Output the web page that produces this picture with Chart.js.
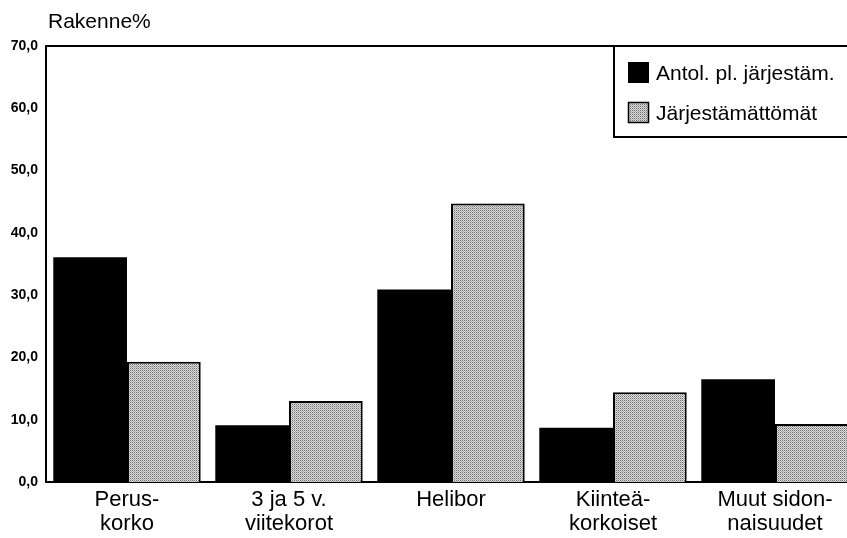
<!DOCTYPE html>
<html>
<head>
<meta charset="utf-8">
<script src="https://cdn.jsdelivr.net/npm/chart.js@4/dist/chart.umd.min.js"></script>
<style>
  html, body { margin: 0; padding: 0; background: #fff; overflow: hidden; }
  #wrap { width: 856px; height: 538px; }
</style>
</head>
<body>
<div id="wrap"><canvas id="graafi" width="856" height="538"></canvas></div>
<script>
// ---- data ----
const kategoriat = [["Perus-", "korko"], ["3 ja 5 v.", "viitekorot"], ["Helibor"], ["Kiinteä-", "korkoiset"], ["Muut sidon-", "naisuudet"]];
const antolArvot = [36.1, 9.1, 30.9, 8.7, 16.5];
const jarjArvot = [19.3, 13.0, 44.7, 14.4, 9.3];
const sarjaNimet = ["Antol. pl. järjestäm.", "Järjestämättömät"];
const otsikko = "Rakenne%";

const fontti = '"Liberation Sans", Arial, Helvetica, sans-serif';

// pisterasteri harmaille pylväille
function rasteri() {
    const c = document.createElement("canvas");
    c.width = 2; c.height = 2;
    const g = c.getContext("2d");
    g.fillStyle = "#dedede"; g.fillRect(0, 0, 2, 2);
    g.fillStyle = "#6e6e6e"; g.fillRect(0, 0, 1, 1);
    g.fillStyle = "#a8a8a8"; g.fillRect(1, 1, 1, 1);
    return document.getElementById("graafi").getContext("2d").createPattern(c, "repeat");
}
const harmaa = rasteri();

// otsikko, yläreuna ja selite
const koristeet = {
    id: "koristeet",
    afterDraw(chart) {
        const ctx = chart.ctx;
        const a = chart.chartArea;
        ctx.save();
        // yläviiva
        ctx.strokeStyle = "#000";
        ctx.lineWidth = 2;
        ctx.beginPath();
        ctx.moveTo(a.left - 1, a.top);
        ctx.lineTo(a.right, a.top);
        ctx.stroke();

        // otsikko
        ctx.fillStyle = "#000";
        ctx.font = "21px " + fontti;
        ctx.textBaseline = "middle";
        ctx.textAlign = "left";
        ctx.fillText(otsikko, a.left + 2, 22);

        // selite
        const x0 = 614, y0 = a.top, y1 = 137;
        ctx.fillStyle = "#fff";
        ctx.fillRect(x0, y0, a.right - x0 + 5, y1 - y0);
        ctx.lineWidth = 2;
        ctx.strokeRect(x0, y0, a.right - x0 + 5, y1 - y0);

        const ds = chart.data.datasets;
        const rivit = [73, 113];
        ds.forEach((d, i) => {
            const yc = rivit[i];
            ctx.fillStyle = d.backgroundColor;
            ctx.fillRect(628, yc - 11, 21, 21);
            if (d.borderWidth) {
                ctx.lineWidth = 1.5;
                ctx.strokeStyle = "#000";
                ctx.strokeRect(628.5, yc - 10.5, 20, 20);
            }
            ctx.fillStyle = "#000";
            ctx.font = "21px " + fontti;
            ctx.textBaseline = "middle";
            ctx.fillText(d.label, 656, yc + 1);
        });
        ctx.restore();
    }
};

new Chart(document.getElementById("graafi"), {
    type: "bar",
    data: {
        labels: kategoriat,
        datasets: [
            {
                label: sarjaNimet[0],
                data: antolArvot,
                backgroundColor: "#000",
                borderWidth: 0
            },
            {
                label: sarjaNimet[1],
                data: jarjArvot,
                backgroundColor: harmaa,
                borderColor: "#000",
                borderWidth: 2
            }
        ]
    },
    options: {
        responsive: false,
        animation: false,
        devicePixelRatio: 1,
        layout: { padding: { top: 46, left: 0, right: 0, bottom: 0 } },
        datasets: { bar: { barPercentage: 1.0, categoryPercentage: 0.91 } },
        plugins: {
            legend: { display: false },
            title: { display: false },
            tooltip: { enabled: false }
        },
        scales: {
            x: {
                grid: { display: false, drawTicks: false },
                border: { display: true, color: "#000", width: 2 },
                ticks: {
                    color: "#000",
                    padding: 6,
                    maxRotation: 0,
                    autoSkip: false,
                    font: { family: fontti, size: 22, lineHeight: 1.1 }
                },
                afterFit: s => { s.height = 56; }
            },
            y: {
                min: 0,
                max: 70,
                grid: { display: false, drawTicks: false },
                border: { display: true, color: "#000", width: 2 },
                ticks: {
                    stepSize: 10,
                    color: "#000",
                    padding: 8,
                    font: { family: fontti, size: 14, weight: "bold" },
                    callback: v => v.toFixed(1).replace(".", ",")
                },
                afterFit: s => { s.width = 46; }
            }
        }
    },
    plugins: [koristeet]
});
</script>
</body>
</html>
